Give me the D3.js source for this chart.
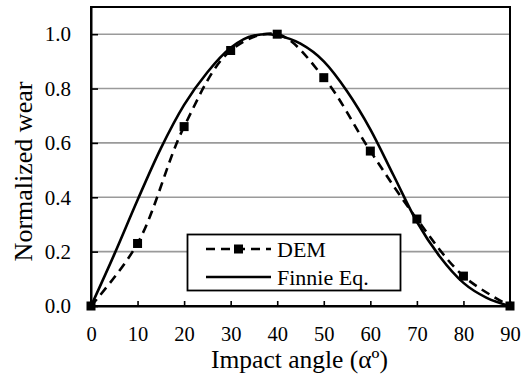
<!DOCTYPE html>
<html>
<head>
<meta charset="utf-8">
<script src="https://cdn.jsdelivr.net/npm/d3@7"></script>
<style>
  body { margin: 0; background: #fff; }
  text { font-family: "Liberation Serif", "Times New Roman", serif; fill: #000; }
</style>
</head>
<body>
<svg id="chart" width="523" height="383"></svg>
<script>
// DEM results (markers + dashed line)
const demAngles = [0, 10, 20, 30, 40, 50, 60, 70, 80, 90];
const demWear = [0, 0.23, 0.66, 0.94, 1.0, 0.84, 0.57, 0.32, 0.11, 0];

// Finnie equation (solid line)
const finnieAngles = [0, 5, 10, 15, 20, 25, 30, 35, 38, 40, 45, 50, 55, 60, 65, 70, 75, 80, 85, 90];
const finnieWear = [0, 0.19, 0.39, 0.58, 0.74, 0.86, 0.95, 0.995, 1.0, 0.995, 0.965, 0.9, 0.79, 0.65, 0.48, 0.31, 0.18, 0.085, 0.03, 0];

const xTicks = [0, 10, 20, 30, 40, 50, 60, 70, 80, 90];
const yTicks = [0, 0.2, 0.4, 0.6, 0.8, 1.0];

const svg = d3.select('#chart');
const plotLeft = 91, plotRight = 510, plotTop = 7, plotBottom = 306;

const x = d3.scaleLinear().domain([0, 90]).range([plotLeft, plotRight]);
const y = d3.scaleLinear().domain([0, 1.1]).range([plotBottom, plotTop]);

// gridlines
svg.append('g')
  .selectAll('line')
  .data(yTicks.filter(d => d > 0))
  .enter().append('line')
  .attr('x1', plotLeft).attr('x2', plotRight)
  .attr('y1', d => y(d)).attr('y2', d => y(d))
  .attr('stroke', '#9a9a9a')
  .attr('stroke-width', 1.6);

// plot frame
svg.append('rect')
  .attr('x', plotLeft).attr('y', plotTop)
  .attr('width', plotRight - plotLeft).attr('height', plotBottom - plotTop)
  .attr('fill', 'none')
  .attr('stroke', '#000')
  .attr('stroke-width', 2);

// axes with inward ticks
const xAxis = svg.append('g')
  .attr('transform', `translate(0,${plotBottom})`)
  .call(d3.axisBottom(x).tickValues(xTicks).tickSizeInner(-5).tickSizeOuter(0));
xAxis.select('.domain').attr('stroke-width', 2);
xAxis.selectAll('.tick line').attr('stroke-width', 1.6);
xAxis.selectAll('text').attr('font-size', 20.5).attr('y', 35).attr('dy', null);

const yAxis = svg.append('g')
  .attr('transform', `translate(${plotLeft},0)`)
  .call(d3.axisLeft(y).tickValues(yTicks).tickFormat(d3.format('.1f')).tickSizeInner(-7).tickSizeOuter(0).tickPadding(20));
yAxis.select('.domain').attr('stroke-width', 2);
yAxis.selectAll('.tick line').attr('stroke-width', 1.6);
yAxis.selectAll('text').attr('font-size', 21);
svg.selectAll('.tick text').style('font-family', '"Liberation Serif", serif');

// axis titles
svg.append('text')
  .attr('x', (plotLeft + plotRight) / 2 - 1)
  .attr('y', 368)
  .attr('text-anchor', 'middle')
  .attr('font-size', 25.5)
  .text('Impact angle (αº)');

svg.append('text')
  .attr('transform', `translate(32,${(plotTop + plotBottom) / 2 + 15}) rotate(-90)`)
  .attr('text-anchor', 'middle')
  .attr('font-size', 26)
  .text('Normalized wear');

// Finnie curve
const finnieData = finnieAngles.map((a, i) => ({ a: a, w: finnieWear[i] }));
svg.append('path')
  .datum(finnieData)
  .attr('fill', 'none')
  .attr('stroke', '#000')
  .attr('stroke-width', 2.6)
  .attr('d', d3.line().x(d => x(d.a)).y(d => y(d.w)).curve(d3.curveMonotoneX));

// DEM dashed curve + markers
const demData = demAngles.map((a, i) => ({ a: a, w: demWear[i] }));
svg.append('path')
  .datum(demData)
  .attr('fill', 'none')
  .attr('stroke', '#000')
  .attr('stroke-width', 2.6)
  .attr('stroke-dasharray', '9,6')
  .attr('d', d3.line().x(d => x(d.a)).y(d => y(d.w)).curve(d3.curveCatmullRom.alpha(0.5)));

svg.append('g')
  .selectAll('rect')
  .data(demData)
  .enter().append('rect')
  .attr('x', d => x(d.a) - 4.5)
  .attr('y', d => y(d.w) - 4.5)
  .attr('width', 9).attr('height', 9)
  .attr('fill', '#000');

// legend
const legend = svg.append('g');
legend.append('rect')
  .attr('x', 187.5).attr('y', 234.5)
  .attr('width', 213).attr('height', 56)
  .attr('fill', '#fff')
  .attr('stroke', '#000')
  .attr('stroke-width', 1.8);

legend.append('line')
  .attr('x1', 206).attr('x2', 271).attr('y1', 249).attr('y2', 249)
  .attr('stroke', '#000').attr('stroke-width', 2.6)
  .attr('stroke-dasharray', '9,6');
legend.append('rect')
  .attr('x', 234).attr('y', 244.5).attr('width', 9).attr('height', 9)
  .attr('fill', '#000');
legend.append('text')
  .attr('x', 277).attr('y', 249).attr('dy', '0.35em')
  .attr('font-size', 22)
  .text('DEM');

legend.append('line')
  .attr('x1', 206).attr('x2', 271).attr('y1', 277).attr('y2', 277)
  .attr('stroke', '#000').attr('stroke-width', 2.6);
legend.append('text')
  .attr('x', 277).attr('y', 277).attr('dy', '0.35em')
  .attr('font-size', 22)
  .text('Finnie Eq.');
</script>
</body>
</html>
